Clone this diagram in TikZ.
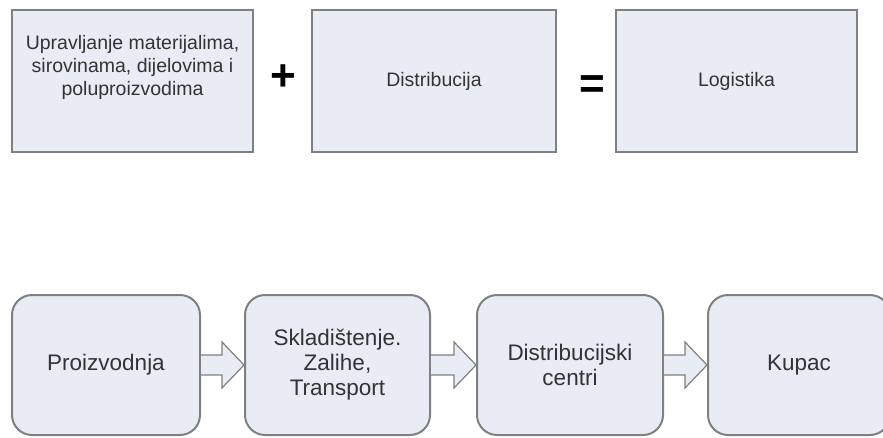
\documentclass[tikz,border=0pt]{standalone}
\usepackage{fontspec}
\setmainfont{Liberation Sans}
\usetikzlibrary{positioning,calc}
\definecolor{boxfill}{HTML}{E8ECF5}
\definecolor{edge}{HTML}{808080}
\definecolor{ink}{HTML}{333333}
\tikzset{
  sq/.style={rectangle, draw=edge, fill=boxfill, line width=1pt, align=center,
             text=ink, font=\fontsize{9.75}{11.5}\selectfont, inner sep=2pt,
             minimum width=120.5pt, minimum height=71pt},
  rbox/.style={sq, rounded corners=10pt, font=\fontsize{11.25}{12.5}\selectfont,
               minimum width=93pt, minimum height=70pt},
  op/.style={font=\bfseries\fontsize{22}{22}\selectfont, text=black, inner sep=0pt},
  blk/.style={draw=edge, fill=boxfill, line width=0.6pt}
}
% block arrow from the east side of #1 to the west side of #2
\newcommand{\blockarrow}[2]{%
  \draw[blk] let \p1=(#1.east), \p2=(#2.west) in
    (\x1,\y1+5pt) -- (\x2-11pt,\y1+5pt) -- (\x2-11pt,\y1+11.5pt) -- (\x2,\y1)
    -- (\x2-11pt,\y1-11.5pt) -- (\x2-11pt,\y1-5pt) -- (\x1,\y1-5pt);}

\begin{document}
\begin{tikzpicture}
  \clip (0,0) rectangle (441.5pt,-219pt);
  % top row
  \node[sq] (mat) at (66.25pt,-40.5pt) {Upravljanje materijalima,\\sirovinama, dijelovima i\\poluproizvodima\\[4pt]};
  \node[sq, right=28.5pt of mat, minimum width=122pt] (dist) {Distribucija};
  \node[sq, right=29pt of dist] (log) {Logistika};
  \node[op] (plus) at ($(mat.east)!0.5!(dist.west)+(0.5pt,1.5pt)$) {+};
  \node[op] (eq) at ($(dist.east)!0.5!(log.west)+(3pt,-3pt)$) {=};
  % bottom row
  \node[rbox, minimum width=94pt] (pro) at (53pt,-182.5pt) {Proizvodnja};
  \node[rbox, right=21.5pt of pro, minimum width=92.5pt] (skl) {Skladištenje.\\Zalihe,\\Transport};
  \node[rbox, right=22.5pt of skl] (dc) {Distribucijski\\centri};
  \node[rbox, right=21.5pt of dc, minimum width=91pt] (kup) {Kupac};
  \blockarrow{pro}{skl}
  \blockarrow{skl}{dc}
  \blockarrow{dc}{kup}
\end{tikzpicture}
\end{document}
